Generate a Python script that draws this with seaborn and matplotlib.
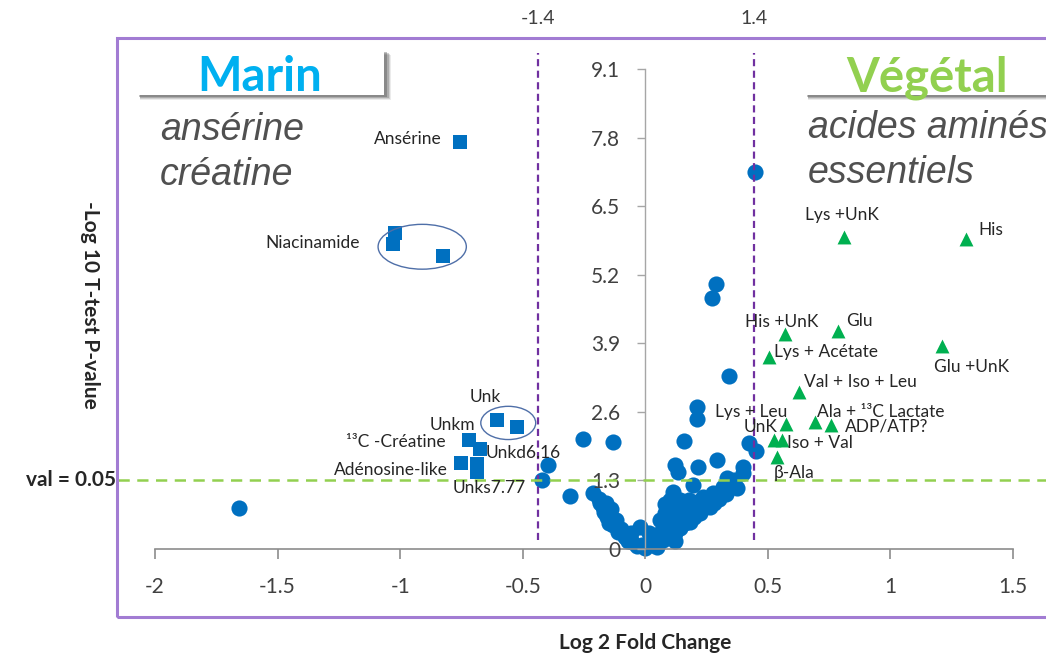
import numpy as np
import pandas as pd
import matplotlib
matplotlib.use("Agg")
import matplotlib.pyplot as plt
import matplotlib.transforms as mtransforms
from matplotlib.patches import Ellipse, Rectangle
import seaborn as sns

# ---------------------------------------------------------------- data
# metabolites not discriminant (blue circles)
circle_x = [-1.657, 0.449, 0.290, 0.273, 0.343, 0.212, 0.212, -0.253, -0.131,
            0.159, 0.425, 0.453, -0.396, -0.420, -0.306, -0.212, 0.122, 0.135,
            0.216, 0.294, 0.400, 0.400, 0.335, 0.376, 0.196, 0.114, 0.100,
            0.143, 0.180, 0.237, 0.278, 0.318, 0.265, 0.224, 0.184, 0.143,
            0.100, 0.082, 0.082, 0.073, 0.114, 0.155, 0.196, -0.184, -0.171,
            -0.155, -0.131, -0.110, -0.082, -0.053, -0.020, -0.012, 0.020,
            0.049, 0.090, 0.000, 0.030, -0.140, -0.100,
            0.060, 0.060, 0.080, 0.120, 0.130, 0.160, 0.200, 0.210, 0.250,
            0.300, 0.330, 0.360, 0.040, 0.100, 0.160, 0.120, 0.240, 0.280,
            -0.190, -0.170, -0.150, -0.120, -0.090, -0.060, -0.035, 0.015,
            0.040, -0.160, -0.070]
circle_y = [0.78, 7.15, 5.03, 4.76, 3.28, 2.69, 2.47, 2.09, 2.03,
            2.05, 2.01, 1.86, 1.59, 1.31, 1.01, 1.06, 1.59, 1.46,
            1.56, 1.69, 1.56, 1.44, 1.35, 1.16, 1.21, 1.08, 0.93,
            0.93, 0.93, 0.99, 1.06, 1.18, 0.80, 0.68, 0.51, 0.40,
            0.27, 0.68, 0.49, 0.17, 0.55, 0.61, 0.74, 0.87, 0.80,
            0.61, 0.46, 0.32, 0.23, 0.13, 0.42, 0.08, 0.17,
            0.04, 0.23, 0.02, 0.08, 0.75, 0.38,
            0.30, 0.55, 0.85, 0.30, 0.70, 0.85, 0.60, 0.90, 0.95,
            0.95, 1.05, 1.30, 0.20, 0.45, 0.50, 0.15, 0.82, 0.88,
            0.95, 0.70, 0.50, 0.55, 0.30, 0.30, 0.05, 0.30,
            0.10, 0.88, 0.15]

# marine-type markers (blue squares)
square_names = ["Ansérine", "Niacinamide", "Niacinamide", "Niacinamide",
                "Unk", "Unk", "Unkm", "¹³C -Créatine", "Adénosine-like",
                "Unkd6.16", "Unks7.77"]
square_x = [-0.755, -1.020, -1.030, -0.825, -0.604, -0.522, -0.718, -0.673,
            -0.751, -0.686, -0.686]
square_y = [7.72, 5.99, 5.78, 5.55, 2.45, 2.32, 2.07, 1.90, 1.63, 1.61, 1.46]

# plant-type markers (green triangles)
triangle_names = ["Lys +UnK", "His", "His +UnK", "Glu", "Lys + Acétate",
                  "Glu +UnK", "Val + Iso + Leu", "Lys + Leu",
                  "Ala + ¹³C Lactate", "ADP/ATP?", "UnK", "Iso + Val", "β-Ala"]
triangle_x = [0.812, 1.310, 0.571, 0.788, 0.506, 1.212, 0.629, 0.575, 0.694,
              0.759, 0.527, 0.559, 0.539]
triangle_y = [5.92, 5.88, 4.08, 4.14, 3.64, 3.85, 2.98, 2.37, 2.41, 2.35,
              2.07, 2.07, 1.75]

x_ticks = [-2, -1.5, -1, -0.5, 0, 0.5, 1, 1.5]
x_tick_labels = ["-2", "-1.5", "-1", "-0.5", "0", "0.5", "1", "1.5"]
y_ticks = [0, 1.3, 2.6, 3.9, 5.2, 6.5, 7.8, 9.1]
y_tick_labels = ["0", "1.3", "2.6", "3.9", "5.2", "6.5", "7.8", "9.1"]

fold_labels = ["-1.4", "1.4"]
fold_cut_x = [-0.437, 0.445]
p_value_cut = 0.05

# ---------------------------------------------------------------- style
sns.set_theme(style="white")
plt.rcParams["font.family"] = ["Lato", "DejaVu Sans"]
plt.rcParams["axes.unicode_minus"] = False

W, H = 1046, 657
fig = plt.figure(figsize=(W / 100, H / 100), dpi=100)
fig.patch.set_facecolor("white")


def fx(px):
    return px / W


def fy(py):
    return 1 - py / H


ax = fig.add_axes([fx(155), fy(549), fx(1013) - fx(155), fy(69) - fy(549)])
ax.set_facecolor("none")

BLUE = "#0070C0"
GREEN = "#00B050"

df_c = pd.DataFrame({"fc": circle_x, "p": circle_y})
df_s = pd.DataFrame({"fc": square_x, "p": square_y, "name": square_names})
df_t = pd.DataFrame({"fc": triangle_x, "p": triangle_y, "name": triangle_names})

sns.scatterplot(data=df_c, x="fc", y="p", ax=ax, marker="o", s=135,
                color=BLUE, linewidth=0, clip_on=False, zorder=2)
sns.scatterplot(data=df_s, x="fc", y="p", ax=ax, marker="s", s=95,
                color=BLUE, linewidth=0, clip_on=False, zorder=2)
sns.scatterplot(data=df_t, x="fc", y="p", ax=ax, marker="^", s=100,
                color=GREEN, linewidth=0, clip_on=False, zorder=2)

ax.set_xlim(-2, 1.5)
ax.set_ylim(0, 9.1)
ax.set_xlabel("")
ax.set_ylabel("")
ax.set_axisbelow(False)

for side in ("top", "right"):
    ax.spines[side].set_visible(False)
ax.spines["left"].set_position(("data", 0))
ax.spines["bottom"].set_position(("data", 0))
ax.spines["left"].set_color("#A6A6A6")
ax.spines["bottom"].set_color("#8C8C8C")
ax.spines["left"].set_linewidth(1.0)
ax.spines["bottom"].set_linewidth(1.2)

ax.set_xticks(x_ticks)
ax.set_xticklabels(x_tick_labels)
ax.set_yticks(y_ticks)
ax.set_yticklabels(y_tick_labels)
ax.tick_params(axis="x", bottom=True, direction="out", length=7, width=1.2,
               color="#8C8C8C", pad=13, labelsize=15, labelcolor="#404040")
ax.tick_params(axis="y", left=True, direction="out", length=6, width=1.0,
               color="#A6A6A6", pad=12, labelsize=15, labelcolor="#404040")

# threshold lines
vtrans = mtransforms.blended_transform_factory(ax.transData, fig.transFigure)
for xc, lab in zip(fold_cut_x, fold_labels):
    ax.plot([xc, xc], [0.17, 9.41], color="#7030A0", lw=1.6,
            dashes=(3.2, 2.0), clip_on=False, zorder=4)
    ax.text(xc, fy(19), lab, transform=vtrans, ha="center", va="center",
            fontsize=14, color="#404040")

htrans = mtransforms.blended_transform_factory(fig.transFigure, ax.transData)
y_cut = -np.log10(p_value_cut)
ax.plot([fx(118), 1.0], [y_cut, y_cut], transform=htrans, color="#92D050",
        lw=1.8, dashes=(4.5, 3.0), clip_on=False, zorder=4)
fig.text(fx(116), fy(480), f"val = {p_value_cut:g}", ha="right", va="center",
         fontsize=15, fontweight="bold", color="#262626")

# group outlines
ell_style = dict(fill=False, ec="#4F6FA8", lw=1.0, zorder=3, clip_on=False)
ax.add_patch(Ellipse((-0.910, 5.73), 0.36, 0.85, **ell_style))
ax.add_patch(Ellipse((-0.559, 2.39), 0.224, 0.63, **ell_style))

# point labels: (index in the series, offset in points, alignment)
square_label_pos = [
    (0, (-13, 2), "right"),
    (2, (-24, 0.5), "right"),
    (4, (-8.5, 16.5), "center"),
    (6, (4.3, 10.8), "right"),
    (7, (-25, 5), "right"),
    (8, (-9.4, -5.0), "right"),
    (9, (5.8, 7.9), "left"),
    (10, (-17.3, -11.5), "left"),
]
triangle_label_pos = [
    (0, (-1.4, 15.8), "center"),
    (1, (8.6, 6.5), "left"),
    (2, (-2.9, 8.6), "center"),
    (3, (5.8, 7.2), "left"),
    (4, (3.6, 3.6), "left"),
    (5, (-5.8, -15.1), "left"),
    (6, (3.6, 7.2), "left"),
    (7, (-51, 8.6), "left"),
    (8, (1.4, 7.2), "left"),
    (9, (10, -1.4), "left"),
    (10, (-22.3, 9.4), "left"),
    (11, (3.6, -2.2), "left"),
    (12, (-2.9, -11.5), "left"),
]
lab_font = dict(fontsize=12.5, color="#262626", va="center",
                family=["Lato", "DejaVu Sans"], zorder=5)
for i, off, ha in square_label_pos:
    ax.annotate(square_names[i], (square_x[i], square_y[i]), xytext=off,
                textcoords="offset points", ha=ha, annotation_clip=False,
                **lab_font)
for i, off, ha in triangle_label_pos:
    ax.annotate(triangle_names[i], (triangle_x[i], triangle_y[i]), xytext=off,
                textcoords="offset points", ha=ha, annotation_clip=False,
                **lab_font)

# axis titles
fig.text(fx(645), fy(643), "Log 2 Fold Change", ha="center", va="center",
         fontsize=15, fontweight="bold", color="#262626")
fig.text(fx(90), fy(305), "-Log 10 T-test P-value", ha="center", va="center",
         rotation=270, fontsize=15, fontweight="bold", color="#262626")

# outer chart frame
fig.add_artist(Rectangle((fx(117), fy(617)), fx(1070) - fx(117),
                         fy(38) - fy(617), transform=fig.transFigure,
                         fill=False, ec="#A27CD3", lw=2.2, zorder=1))


# group heading boxes with a soft drop shadow
def heading_box(x0, x1, y0, y1):
    for k, a in enumerate([0.10, 0.16, 0.24, 0.32]):
        d = 4 - k
        fig.add_artist(Rectangle((fx(x0 + 2 + d * 0.3), fy(y1 + 1 + d)),
                                 fx(x1 - x0 + d), fy(0) - fy(y1 - y0),
                                 transform=fig.transFigure, fc="#404040",
                                 ec="none", alpha=a, zorder=6))
    fig.add_artist(Rectangle((fx(x0), fy(y1)), fx(x1 - x0),
                             fy(0) - fy(y1 - y0), transform=fig.transFigure,
                             fc="white", ec="none", zorder=7))


heading_box(137, 384, 50, 95)
heading_box(805, 1080, 50, 95)
fig.text(fx(260), fy(91), "Marin", ha="center", va="baseline", fontsize=34,
         fontweight="bold", color="#00B0F0", zorder=8)
fig.text(fx(927), fy(91), "Végétal", ha="center", va="baseline", fontsize=34,
         fontweight="bold", color="#92D050", zorder=8)

ital = dict(fontsize=27, style="italic", color="#505050", va="baseline",
            family=["Liberation Sans", "DejaVu Sans"])
fig.text(fx(160), fy(140), "ansérine", **ital)
fig.text(fx(160), fy(185), "créatine", **ital)
fig.text(fx(808), fy(138), "acides aminés", **ital)
fig.text(fx(808), fy(183), "essentiels", **ital)

fig.savefig("out.png", dpi=100, facecolor="white")
